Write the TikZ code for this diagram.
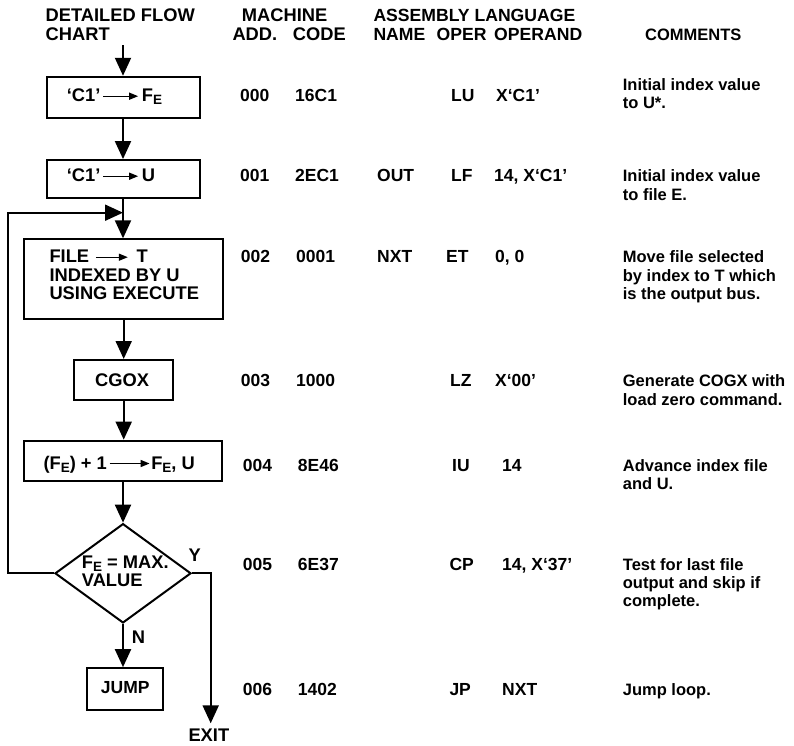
\documentclass[tikz,border=0pt]{standalone}
\usepackage{fontspec}
\setmainfont{Liberation Sans}
\usetikzlibrary{arrows.meta,shapes.geometric}
\newcommand\subE{\raisebox{-3pt}{\fontsize{13.5}{13.5}\selectfont E}}
\newcommand\tarr[1]{\tikz[baseline=0pt]\draw[line width=1.4pt,-{Triangle[length=9pt,width=7pt]}](0pt,5.5pt)--(#1,5.5pt);}
\newcommand\lines[1]{\begin{tabular}[t]{@{}l@{}}#1\end{tabular}}
\tikzset{
  hdr/.style={anchor=base west,inner sep=0pt,font=\bfseries\fontsize{18.3}{18.3}\selectfont},
  hdrs/.style={anchor=base west,inner sep=0pt,font=\bfseries\fontsize{17.6}{18.3}\selectfont},
  txt/.style={anchor=base west,inner sep=0pt,font=\bfseries\fontsize{17.5}{18.3}\selectfont},
  cmt/.style={anchor=base west,inner sep=0pt,font=\bfseries\fontsize{16.5}{18.3}\selectfont},
  box/.style={draw,line width=2pt,inner sep=0pt},
  arr/.style={line width=2pt,-{Triangle[length=18pt,width=16pt]}},
  ln/.style={line width=2pt}
}
\begin{document}
\begin{tikzpicture}[x=1pt,y=-1pt]
\useasboundingbox[fill=white] (0,0) rectangle (794,745);
% headers
\node[hdr] (h1) at (45.5,21.7) {DETAILED FLOW};
\node[hdr] (h2) at (45.5,40) {CHART};
\node[hdr] (h3) at (241.7,21.7) {MACHINE};
\node[hdr] (h4) at (232.3,40) {ADD.};
\node[hdr] (h5) at (292.7,40) {CODE};
\node[hdrs] (h6) at (373.3,21.7) {ASSEMBLY LANGUAGE};
\node[hdrs] (h7) at (373.3,40) {NAME};
\node[hdrs] (h8) at (436.5,40) {OPER};
\node[hdrs] (h9) at (494,40) {OPERAND};
\node[cmt] (h10) at (645,40) {COMMENTS};
% flowchart boxes
\node[box,minimum width=153,minimum height=41.5] (b1) at (123,97.5) {};
\node[box,minimum width=153,minimum height=38.3] (b2) at (123,179.2) {};
\node[box,minimum width=198.5,minimum height=79.7] (b3) at (123.3,279.2) {};
\node[box,minimum width=99.3,minimum height=40] (b4) at (123.7,380) {};
\node[box,minimum width=197.7,minimum height=40.3] (b5) at (123,460.8) {};
\node[box,shape=diamond,minimum width=136,minimum height=99.3] (dia) at (123,573.3) {};
\node[box,minimum width=76.6,minimum height=41.7] (b7) at (125,689) {};
% texts in boxes
\node[hdr] (t1) at (66.7,101.7) {‘C1’\kern2pt\tarr{35pt}\kern3pt F\subE};
\node[hdr] (t2) at (66.7,181.7) {‘C1’\kern2pt\tarr{35pt}\kern3pt U};
\node[hdr] (t3) at (49.3,262.7) {\lines{FILE\kern6pt\tarr{32pt}\kern8pt T\\INDEXED BY U\\USING EXECUTE}};
\node[hdr] (t4) at (95,386.7) {CGOX};
\node[hdr] (t5) at (43.3,469) {(F\subE) + 1\kern2pt\tarr{40pt}\kern1pt F\subE, U};
\node[hdr] (t6) at (81.7,568.3) {\lines{F\subE\ = MAX.\\VALUE}};
\node[txt] (t7) at (100.7,693.3) {JUMP};
\node[hdr] (ly) at (188.3,561.7) {Y};
\node[hdr] (lnn) at (131.7,643.3) {N};
\node[hdr] (lex) at (188.3,741.7) {EXIT};
% connectors
\coordinate (st) at (123,45);
\coordinate (j) at (123,212.7);
\coordinate (lp) at (7.5,212.7);
\coordinate (ex) at (210.7,723.3);
\draw[arr] (st) -- (b1);
\draw[arr] (b1) -- (b2);
\draw[arr] (b2.south) -- (b2.south |- b3.north);
\draw[arr] (b3.south -| b4) -- (b4);
\draw[arr] (b4) -- (b5.north -| b4);
\draw[arr] (b5.south -| dia) -- (dia);
\draw[arr] (dia.south) -- (dia.south |- b7.north);
\draw[arr] (dia.west) -| (lp) -- (j);
\draw[arr] (dia.east) -| (ex);
% table rows
\node[txt] (a0) at (240,101) {000};
\node[txt] (c0) at (295,101) {16C1};
\node[txt] (o0) at (451,101) {LU};
\node[txt] (p0) at (496,101) {X‘C1’};
\node[cmt] (m0) at (622.7,90) {\lines{Initial index value\\to U*.}};
\node[txt] (a1) at (240,181.7) {001};
\node[txt] (c1) at (295,181.7) {2EC1};
\node[txt] (n1) at (377,181.7) {OUT};
\node[txt] (o1) at (451,181.7) {LF};
\node[txt] (p1) at (494,181.7) {14, X‘C1’};
\node[cmt] (m1) at (622.7,181.7) {\lines{Initial index value\\to file E.}};
\node[txt] (a2) at (240.7,262.7) {002};
\node[txt] (c2) at (296,262.7) {0001};
\node[txt] (n2) at (377,262.7) {NXT};
\node[txt] (o2) at (446,262.7) {ET};
\node[txt] (p2) at (495,262.7) {0, 0};
\node[cmt] (m2) at (622.7,262.7) {\lines{Move file selected\\by index to T which\\is the output bus.}};
\node[txt] (a3) at (240.7,386.7) {003};
\node[txt] (c3) at (296,386.7) {1000};
\node[txt] (o3) at (450,386.7) {LZ};
\node[txt] (p3) at (495,386.7) {X‘00’};
\node[cmt] (m3) at (622.7,386.7) {\lines{Generate COGX with\\load zero command.}};
\node[txt] (a4) at (242.7,471) {004};
\node[txt] (c4) at (297.7,471) {8E46};
\node[txt] (o4) at (452,471) {IU};
\node[txt] (p4) at (502,471) {14};
\node[cmt] (m4) at (622.7,471) {\lines{Advance index file\\and U.}};
\node[txt] (a5) at (242.7,570) {005};
\node[txt] (c5) at (297.7,570) {6E37};
\node[txt] (o5) at (449.3,570) {CP};
\node[txt] (p5) at (502,570) {14, X‘37’};
\node[cmt] (m5) at (622.7,570) {\lines{Test for last file\\output and skip if\\complete.}};
\node[txt] (a6) at (242.7,695) {006};
\node[txt] (c6) at (297.7,695) {1402};
\node[txt] (o6) at (449.3,695) {JP};
\node[txt] (p6) at (502,695) {NXT};
\node[cmt] (m6) at (622.7,695) {Jump loop.};
\end{tikzpicture}
\end{document}
